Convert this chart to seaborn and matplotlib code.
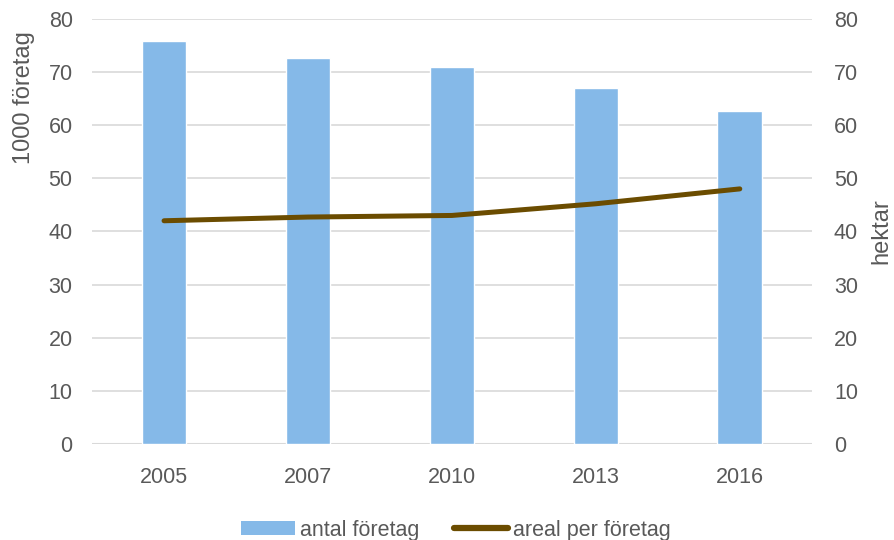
import matplotlib.pyplot as plt
import seaborn as sns
import pandas as pd
from matplotlib.patches import Patch
from matplotlib.lines import Line2D

# Data
years = ["2005", "2007", "2010", "2013", "2016"]
antal_foretag = [75.8, 72.6, 70.9, 67.0, 62.6]      # 1000 företag
areal_per_foretag = [42.0, 42.7, 43.0, 45.2, 48.0]  # hektar

df = pd.DataFrame({"År": years, "antal": antal_foretag, "areal": areal_per_foretag})

bar_color = "#85B9E8"
line_color = "#6B4C00"
text_color = "#595959"
grid_color = "#D9D9D9"

sns.set_style("white")
plt.rcParams["font.family"] = ["Liberation Sans", "DejaVu Sans"]

fig = plt.figure(figsize=(8.94, 5.40), dpi=100)
ax = fig.add_axes([0.103, 0.178, 0.805, 0.787])

sns.barplot(data=df, x="År", y="antal", color=bar_color, width=0.31,
            saturation=1, ax=ax, zorder=2)

ax2 = ax.twinx()
sns.lineplot(x=range(len(years)), y=areal_per_foretag, color=line_color,
             linewidth=3.6, ax=ax2, solid_capstyle="round", zorder=3)

for a in (ax, ax2):
    a.set_ylim(0, 80)
    a.set_yticks(range(0, 81, 10))
    a.tick_params(axis="y", colors=text_color, labelsize=15.5, length=0)
    for s in a.spines.values():
        s.set_visible(False)
ax.tick_params(axis="y", pad=14)
ax2.tick_params(axis="y", pad=16)

ax.set_xlim(-0.5, len(years) - 0.5)
ax.yaxis.grid(True, color=grid_color, linewidth=1.2, zorder=0)
ax.set_axisbelow(True)
ax.tick_params(axis="x", colors=text_color, labelsize=15.5, length=0, pad=17)
ax.set_xlabel("")
ax.set_ylabel("1000 företag", color=text_color, fontsize=17)
ax.yaxis.set_label_coords(-0.079, 0.816)
ax2.set_ylabel("hektar", color=text_color, fontsize=17)
ax2.yaxis.set_label_coords(1.081, 0.5)
ax.axhline(0, color=grid_color, linewidth=1.5, zorder=1)

handles = [Patch(facecolor=bar_color, edgecolor="none", label="antal företag"),
           Line2D([0], [0], color=line_color, linewidth=4.5, solid_capstyle="round",
                  label="areal per företag")]
fig.legend(handles=handles, loc="center", bbox_to_anchor=(0.51, 0.0185), ncol=2,
           frameon=False, fontsize=15.5, labelcolor=text_color, handlelength=2.5,
           handleheight=0.65, handletextpad=0.25, columnspacing=1.6,
           borderpad=0.1)

fig.savefig("out.png", dpi=100)
